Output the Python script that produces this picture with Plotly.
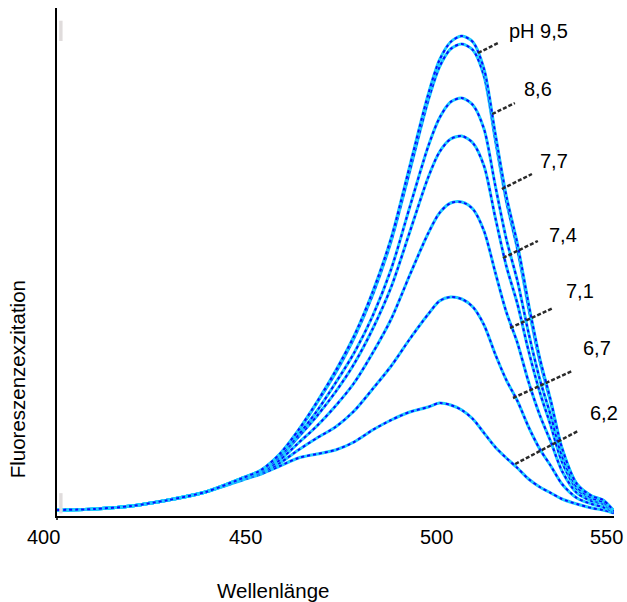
import plotly.graph_objects as go

# Wavelength grid (nm)
wavelength = [400, 410, 420, 430, 440, 450, 455, 460, 465, 470, 475, 480, 485, 490, 495,
              500, 503, 506, 509, 512, 515, 518, 521, 524, 527, 530, 533, 536, 540, 544, 547, 550]

# Fluorescence excitation intensities (arbitrary units)
ph_95 = [6, 7, 10, 16, 24, 38, 46, 62, 86, 114, 145, 180, 224, 278, 350,
         422, 456, 474, 480, 474, 447, 383, 320, 272, 212, 158, 115, 68, 32, 20, 16, 5]
ph_86 = [6, 7, 10, 16, 24, 38, 46, 62, 85, 113, 143, 178, 221, 275, 345,
         416, 449, 467, 472, 466, 440, 377, 315, 267, 208, 155, 113, 67, 32, 20, 16, 5]
ph_77 = [6, 7, 10, 16, 24, 38, 45, 60, 81, 105, 133, 163, 200, 247, 309,
         370, 398, 414, 418, 411, 387, 331, 277, 235, 183, 137, 100, 60, 29, 18, 14, 5]
ph_74 = [6, 7, 10, 16, 24, 38, 45, 59, 79, 100, 124, 152, 187, 229, 284,
         339, 364, 377, 380, 373, 350, 299, 250, 212, 165, 124, 90, 54, 27, 17, 13, 5]
ph_71 = [6, 7, 10, 16, 24, 37, 44, 56, 73, 90, 110, 133, 163, 197, 241,
         283, 303, 313, 314, 307, 285, 244, 204, 173, 134, 101, 74, 45, 23, 15, 12, 4]
ph_67 = [6, 7, 10, 16, 24, 37, 43, 53, 66, 78, 89, 105, 127, 150, 177,
         202, 215, 219, 217, 209, 191, 162, 136, 115, 89, 67, 50, 32, 18, 12, 9, 4]
ph_62 = [6, 7, 10, 16, 24, 36, 42, 50, 58, 62, 66, 74, 86, 96, 104,
         109, 113, 111, 106, 97, 83, 69, 58, 48, 37, 29, 23, 17, 12, 8, 6, 3]

series = [ph_62, ph_67, ph_71, ph_74, ph_77, ph_86, ph_95]

# Axis tick labels
tick_values = [400, 450, 500, 550]
tick_labels = ["400", "450", "500", "550"]

# Labels and their leader lines (curve point -> label side), in data units
label_text = ["pH 9,5", "8,6", "7,7", "7,4", "7,1", "6,7", "6,2"]
label_x = [529.8, 529.5, 533.9, 536.3, 540.9, 545.4, 547.3]
label_y = [485, 427, 355, 281, 225, 168, 103]
leader_x0 = [513.4, 517.2, 519.8, 520.1, 522.0, 522.8, 523.4]
leader_y0 = [463, 402, 327, 258, 188, 118, 52]
leader_x1 = [518.8, 523.3, 527.9, 529.5, 533.6, 538.7, 540.3]
leader_y1 = [473, 413, 342, 275, 208, 145, 85]

FONT = "Arial, Liberation Sans, sans-serif"

fig = go.Figure()
for s in series:
    fig.add_trace(go.Scatter(x=wavelength, y=s, mode="lines",
                             line=dict(color="#1ecbff", width=3, shape="spline", smoothing=0.8),
                             hoverinfo="skip", showlegend=False))
    fig.add_trace(go.Scatter(x=wavelength, y=s, mode="lines",
                             line=dict(color="#0a0aff", width=2, dash="3px,3px",
                                       shape="spline", smoothing=0.8),
                             hoverinfo="skip", showlegend=False))

shapes = []
for x0, y0, x1, y1 in zip(leader_x0, leader_y0, leader_x1, leader_y1):
    shapes.append(dict(type="line", xref="x", yref="y", x0=x0, y0=y0, x1=x1, y1=y1,
                       line=dict(color="#2a2a2a", width=2.5, dash="4px,2px")))
# y-axis line slightly overshooting below the x axis
shapes.append(dict(type="line", xref="paper", yref="paper", x0=0, x1=0, y0=-0.008, y1=0,
                   line=dict(color="black", width=1.5)))
# faint grey scan marks near the y axis
shapes.append(dict(type="rect", xref="paper", yref="paper", x0=0.004, x1=0.01,
                   y0=0.935, y1=0.975, line=dict(width=0), fillcolor="#e0dcdc"))
shapes.append(dict(type="rect", xref="paper", yref="paper", x0=0.004, x1=0.01,
                   y0=0.005, y1=0.045, line=dict(width=0), fillcolor="#e0dcdc"))

annotations = []
for t, x, y in zip(label_text, label_x, label_y):
    annotations.append(dict(x=x, y=y, xref="x", yref="y", text=t, showarrow=False,
                            font=dict(family=FONT, size=20, color="black"),
                            xanchor="center", yanchor="middle"))
# tick labels placed at their axis values (small pixel nudges as in the original print)
tick_shift = [-14, 3, 8, -8]
for v, t, sh in zip(tick_values, tick_labels, tick_shift):
    annotations.append(dict(x=v, y=-0.0413, xref="x", yref="paper", text=t, showarrow=False,
                            xshift=sh, font=dict(family=FONT, size=20, color="black"),
                            xanchor="center", yanchor="middle"))
annotations.append(dict(x=0.388, y=-0.146, xref="paper", yref="paper", text="Wellenlänge",
                        showarrow=False, font=dict(family=FONT, size=20.5, color="black"),
                        xanchor="center", yanchor="middle"))
annotations.append(dict(x=-0.071, y=0.27, xref="paper", yref="paper",
                        text="Fluoreszenzexzitation", textangle=-90, showarrow=False,
                        font=dict(family=FONT, size=20.5, color="black"),
                        xanchor="center", yanchor="middle"))

fig.update_layout(
    width=627, height=602,
    margin=dict(l=57, r=13, t=8, b=86),
    paper_bgcolor="white", plot_bgcolor="white",
    shapes=shapes, annotations=annotations,
    xaxis=dict(range=[400, 550], showline=True, linecolor="black", linewidth=2,
               ticks="", tickvals=tick_values, showticklabels=False,
               showgrid=False, zeroline=False),
    yaxis=dict(range=[0, 508], showline=True, linecolor="black", linewidth=1.5,
               showticklabels=False, ticks="", showgrid=False, zeroline=False),
)

# remove the default 8px page margin so the figure fills the window exactly
fig.write_html("out.html",
               config={"displayModeBar": False},
               post_script="document.body.style.margin='0';document.body.style.overflow='hidden';")
